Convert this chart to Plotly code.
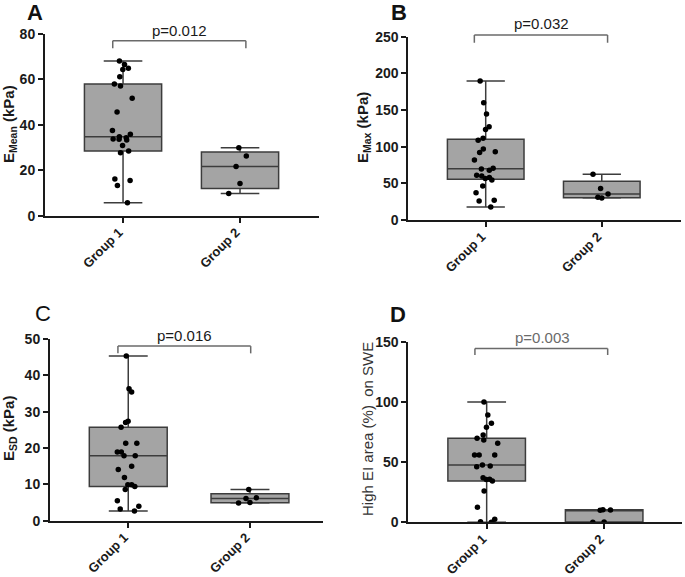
import plotly.graph_objects as go

W, H = 685, 577
FONT = "Liberation Sans, Arial, sans-serif"

group_labels = ["Group 1", "Group 2"]

# Panel A: E_Mean (kPa)
e_mean_g1 = [68.0, 66.5, 64.8, 64.3, 61.1, 57.9, 57.0, 51.6, 45.6, 37.4, 35.8, 34.7,
             34.3, 33.7, 33.6, 33.3, 30.9, 28.4, 27.7, 16.1, 15.5, 13.3, 5.7]
e_mean_g2 = [29.9, 26.2, 21.6, 14.2, 9.8]

# Panel B: E_Max (kPa)
e_max_g1 = [189.5, 160.0, 144.5, 127.3, 123.6, 111.4, 108.6, 96.8, 93.0, 92.0, 81.8, 70.5,
            69.5, 68.0, 61.0, 60.0, 58.0, 56.5, 54.5, 46.4, 37.3, 27.0, 26.0, 17.7]
e_max_g2 = [62.5, 43.0, 35.5, 31.0, 30.0]

# Panel C: E_SD (kPa)
e_sd_g1 = [45.3, 36.3, 35.4, 27.4, 27.0, 25.7, 21.3, 21.3, 18.9, 18.9, 17.9, 17.9,
           15.0, 14.1, 11.9, 9.9, 9.9, 9.4, 8.6, 5.5, 4.0, 3.2, 2.7]
e_sd_g2 = [8.6, 6.3, 6.1, 5.0, 4.9]

# Panel D: High EI area (%) on SWE
high_ei_g1 = [100.0, 89.1, 82.2, 78.9, 72.5, 69.8, 68.4, 65.6, 55.9, 55.9, 55.9, 47.6,
              46.8, 46.2, 37.0, 35.7, 35.5, 34.3, 26.0, 12.5, 2.5, 0.5, 0.0]
high_ei_g2 = [10.5, 10.2, 10.0, 0.3, 0.0]

p_values = ["p=0.012", "p=0.032", "p=0.016", "p=0.003"]
y_titles = ["<b>E<sub>Mean</sub> (kPa)</b>", "<b>E<sub>Max</sub> (kPa)</b>",
            "<b>E<sub>SD</sub> (kPa)</b>", "High EI area (%)  on SWE"]
y_max = [80, 250, 50, 150]
y_dtick = [20, 50, 10, 50]

# layout geometry (pixels)
panels = [
    dict(letter="A", g1=e_mean_g1, g2=e_mean_g2, dom_x=(45, 319), dom_y=(33.7, 215.7),
         xr=(-0.667, 1.675), bw=0.66, br=(-0.088, 1.05, 0.9615, 0.92),
         let_xy=(35, 12.5), let_bold=True, p_xy=(179, 30), p_col="#1a1a1a",
         t_xy=(10, 124), t_col="#1a1a1a"),
    dict(letter="B", g1=e_max_g1, g2=e_max_g2, dom_x=(408.3, 680.7), dom_y=(36.7, 220),
         xr=(-0.667, 1.68), bw=0.66, br=(-0.098, 1.05, 1.009, 0.967),
         let_xy=(399, 12.5), let_bold=True, p_xy=(541.7, 23.3), p_col="#1a1a1a",
         t_xy=(363, 128), t_col="#1a1a1a"),
    dict(letter="C", g1=e_sd_g1, g2=e_sd_g2, dom_x=(50, 323), dom_y=(339, 520.7),
         xr=(-0.643, 1.6), bw=0.64, br=(-0.085, 1.006, 0.961, 0.921),
         let_xy=(43, 313), let_bold=False, p_xy=(184.3, 335), p_col="#1a1a1a",
         t_xy=(9, 429), t_col="#1a1a1a"),
    dict(letter="D", g1=high_ei_g1, g2=high_ei_g2, dom_x=(408.3, 681.7), dom_y=(341.7, 522.3),
         xr=(-0.667, 1.66), bw=0.66, br=(-0.1, 1.03, 0.963, 0.926),
         let_xy=(398, 314.7), let_bold=True, p_xy=(542.7, 337.7), p_col="#6a6a6a",
         t_xy=(367, 429), t_col="#333333"),
]

fig = go.Figure()
layout = dict(template="none", width=W, height=H, margin=dict(l=0, r=0, t=0, b=0, pad=0),
              autosize=False,
              paper_bgcolor="white", plot_bgcolor="white", showlegend=False,
              font=dict(family=FONT, color="#1a1a1a"))
annotations = []
shapes = []

for i, pnl in enumerate(panels):
    k = "" if i == 0 else str(i + 1)
    xa, ya = "x" + k, "y" + k
    g1, g2 = pnl["g1"], pnl["g2"]
    fig.add_trace(go.Box(
        x=[0] * len(g1) + [1] * len(g2), y=g1 + g2,
        xaxis=xa, yaxis=ya, boxpoints="all", jitter=0.35, pointpos=0,
        width=pnl["bw"], whiskerwidth=0.5, quartilemethod="exclusive",
        fillcolor="#a4a4a4", line=dict(color="#3c3c3c", width=1.5),
        marker=dict(color="black", size=5.5), hoverinfo="y",
    ))
    x0, x1 = pnl["dom_x"]
    yt, yb = pnl["dom_y"]
    layout["xaxis" + k] = dict(
        domain=[x0 / W, x1 / W], range=list(pnl["xr"]), anchor=ya, automargin=False,
        showline=True, linecolor="#1a1a1a", linewidth=2, ticks="outside", ticklen=5,
        tickwidth=2, tickcolor="#1a1a1a", tickvals=[0, 1], ticktext=group_labels,
        tickangle=-45, ticklabelshift=-4, ticklabelstandoff=-3,
        tickfont=dict(family=FONT, size=13, weight="bold", color="#1a1a1a"),
        showgrid=False, zeroline=False, fixedrange=True)
    layout["yaxis" + k] = dict(
        domain=[1 - yb / H, 1 - yt / H], range=[0, y_max[i]], dtick=y_dtick[i], anchor=xa,
        automargin=False,
        showline=True, linecolor="#1a1a1a", linewidth=2, ticks="outside", ticklen=5,
        tickwidth=2, tickcolor="#1a1a1a",
        tickfont=dict(family=FONT, size=14, weight="bold", color="#1a1a1a"),
        showgrid=False, zeroline=False, fixedrange=True)
    # significance bracket
    bl, br, btop, bend = pnl["br"]
    for (sx0, sy0, sx1, sy1) in [(bl, btop, br, btop), (bl, btop, bl, bend), (br, btop, br, bend)]:
        shapes.append(dict(type="line", xref=xa, yref=ya + " domain", x0=sx0, y0=sy0,
                           x1=sx1, y1=sy1, line=dict(color="#6a6a6a", width=1.5)))
    # p-value text
    annotations.append(dict(text=p_values[i], xref="paper", yref="paper",
                            x=pnl["p_xy"][0] / W, y=1 - pnl["p_xy"][1] / H,
                            xanchor="center", yanchor="middle", showarrow=False,
                            font=dict(family=FONT, size=15, color=pnl["p_col"])))
    # panel letter
    annotations.append(dict(text=("<b>%s</b>" % pnl["letter"]) if pnl["let_bold"] else pnl["letter"],
                            xref="paper", yref="paper",
                            x=pnl["let_xy"][0] / W, y=1 - pnl["let_xy"][1] / H,
                            xanchor="center", yanchor="middle", showarrow=False,
                            font=dict(family=FONT, size=22, color="#111111")))
    # y-axis title
    annotations.append(dict(text=y_titles[i], xref="paper", yref="paper",
                            x=pnl["t_xy"][0] / W, y=1 - pnl["t_xy"][1] / H, textangle=-90,
                            xanchor="center", yanchor="middle", showarrow=False,
                            font=dict(family=FONT, size=15, color=pnl["t_col"])))

layout["annotations"] = annotations
layout["shapes"] = shapes
fig.update_layout(**layout)
fig.write_html("out.html", config={"displayModeBar": False},
               post_script="document.body.style.margin='0';document.body.style.overflow='hidden';")
